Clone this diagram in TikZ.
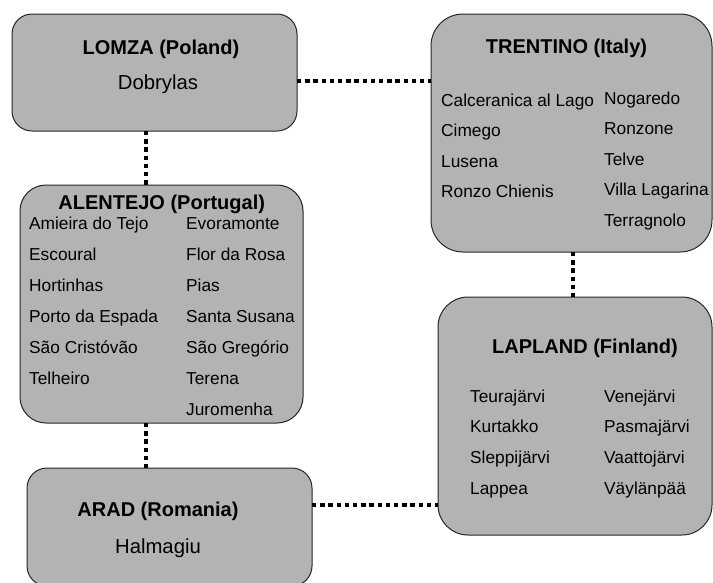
\documentclass[tikz,border=0pt]{standalone}
\usepackage{fontspec}
\setmainfont{Liberation Sans}
\begin{document}
\begin{tikzpicture}[x=1pt,y=-1pt,
  box/.style={draw=black!85, line width=1pt, fill=boxgray, inner sep=0, outer sep=0},
  conn/.style={line width=4pt, dash pattern=on 4.3pt off 3.9pt, black},
  ttl/.style={font=\bfseries\fontsize{20}{22}\selectfont, anchor=base, inner sep=0},
  itm/.style={font=\fontsize{17.3}{20}\selectfont, anchor=base west, inner sep=0},
  bigitm/.style={font=\fontsize{20.3}{22}\selectfont, anchor=base, inner sep=0}]
\definecolor{boxgray}{RGB}{179,179,179}
\useasboundingbox (0,0) rectangle (713,582);
\clip (0,0) rectangle (713,582);
% boxes
\node[box, rounded corners=20pt, minimum width=285pt, minimum height=117pt] (lomza) at (154.5,72.5) {};
\node[box, rounded corners=32pt, minimum width=281pt, minimum height=238pt] (trentino) at (571.5,133) {};
\node[box, rounded corners=26pt, minimum width=283pt, minimum height=238pt] (alentejo) at (161.5,304) {};
\node[box, rounded corners=30pt, minimum width=274pt, minimum height=238pt] (lapland) at (575,416) {};
\node[box, rounded corners=20pt, minimum width=285pt, minimum height=118pt] (arad) at (169.5,527) {};
% helper coordinates
\coordinate (ya) at (0,81);
\coordinate (yb) at (0,505);
\coordinate (xa) at (146,0);
\coordinate (xb) at (573,0);
% connectors
\draw[conn] (lomza.east |- ya) -- (trentino.west |- ya);
\draw[conn] (lomza.south -| xa) -- (alentejo.north -| xa);
\draw[conn] (alentejo.south -| xa) -- (arad.north -| xa);
\draw[conn] (arad.east |- yb) -- (lapland.west |- yb);
\draw[conn] (trentino.south -| xb) -- (lapland.north -| xb);
% LOMZA
\node[ttl] (t1) at (161,54) {LOMZA (Poland)};
\node[bigitm] (l1) at (158,89) {Dobrylas};
% TRENTINO
\node[ttl] (t2) at (566.5,53) {TRENTINO (Italy)};
\node[itm] (tr1) at (441,106) {Calceranica al Lago};
\node[itm] (tr2) at (441,136.5) {Cimego};
\node[itm] (tr3) at (441,167) {Lusena};
\node[itm] (tr4) at (441,197.5) {Ronzo Chienis};
\node[itm] (tr5) at (604,104) {Nogaredo};
\node[itm] (tr6) at (604,134.5) {Ronzone};
\node[itm] (tr7) at (604,165) {Telve};
\node[itm] (tr8) at (604,195.5) {Villa Lagarina};
\node[itm] (tr9) at (604,226) {Terragnolo};
% ALENTEJO
\node[ttl] (t3) at (161.7,209) {ALENTEJO (Portugal)};
\node[itm] (a1) at (29,229) {Amieira do Tejo};
\node[itm] (a2) at (29,260) {Escoural};
\node[itm] (a3) at (29,291) {Hortinhas};
\node[itm] (a4) at (29,322) {Porto da Espada};
\node[itm] (a5) at (29,353) {São Cristóvão};
\node[itm] (a6) at (29,384) {Telheiro};
\node[itm] (a7) at (186,229) {Evoramonte};
\node[itm] (a8) at (186,260) {Flor da Rosa};
\node[itm] (a9) at (186,291) {Pias};
\node[itm] (a10) at (186,322) {Santa Susana};
\node[itm] (a11) at (186,353) {São Gregório};
\node[itm] (a12) at (186,384) {Terena};
\node[itm] (a13) at (186,415) {Juromenha};
% LAPLAND
\node[ttl] (t4) at (585,353) {LAPLAND (Finland)};
\node[itm] (p1) at (470,402) {Teurajärvi};
\node[itm] (p2) at (470,432.7) {Kurtakko};
\node[itm] (p3) at (470,463.4) {Sleppijärvi};
\node[itm] (p4) at (470,494) {Lappea};
\node[itm] (p5) at (604,402) {Venejärvi};
\node[itm] (p6) at (604,432.7) {Pasmajärvi};
\node[itm] (p7) at (604,463.4) {Vaattojärvi};
\node[itm] (p8) at (604,494) {Väylänpää};
% ARAD
\node[ttl] (t5) at (158,516) {ARAD (Romania)};
\node[bigitm] (r1) at (158,553) {Halmagiu};
\end{tikzpicture}
\end{document}
